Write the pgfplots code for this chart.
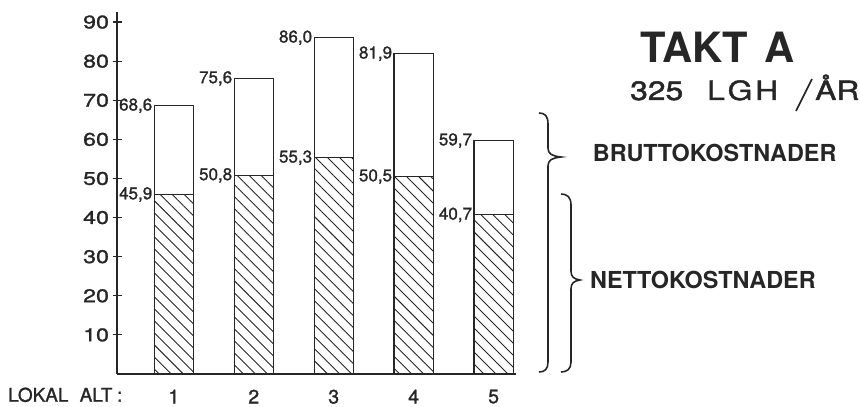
\documentclass[border=0pt]{standalone}
\usepackage{fontspec}
\setmainfont{TeX Gyre Heros}
\newfontfamily\medfont[FakeBold=1.3]{TeX Gyre Heros}
\newfontfamily\widefont[FakeStretch=1.27, FakeBold=1.3]{TeX Gyre Heros}
\newfontfamily\titlefont[FakeStretch=1.2, FakeBold=1.6]{TeX Gyre Heros}
\usepackage{pgfplots}
\pgfplotsset{compat=1.18}
\usetikzlibrary{patterns.meta}
\definecolor{ink}{HTML}{262626}

\begin{document}
\begin{tikzpicture}[x=1pt,y=1pt]
\useasboundingbox (0,0) rectangle (860,407);
\begin{axis}[
  at={(117pt,33pt)}, anchor=south west,
  scale only axis, width=399pt, height=361.7pt,
  xmin=0.289, xmax=5.28, ymin=0, ymax=92.5,
  axis x line*=bottom, axis y line*=left,
  axis line style={ink, line width=1.3pt},
  xtick={1,2,3,4,5}, xtick style={draw=none},
  ytick={10,20,...,90},
  tick align=center, major tick length=9pt,
  ytick style={ink, line width=1.2pt},
  tick label style={ink},
  yticklabel style={font=\widefont\fontsize{18.3}{18.3}\selectfont},
  xticklabel style={font=\medfont\fontsize{19.5}{19.5}\selectfont, inner sep=0pt, yshift=-11pt},
  /pgf/number format/assume math mode=true,
  clip=false,
  point meta=y,
  nodes near coords={\pgfmathprintnumber[fixed, fixed zerofill, precision=1, use comma]{\pgfplotspointmeta}},
  every node near coord/.append style={anchor=east, xshift=-21pt, inner sep=0pt,
    text=ink, font=\medfont\fontsize{17}{17}\selectfont},
]
% gross cost (whole bar)
\addplot[ybar, bar width=0.49, bar shift=0pt, draw=ink, line width=1.2pt, fill=white]
  coordinates {(1,68.6) (2,75.6) (3,86.0) (4,81.9) (5,59.7)};
% net cost (hatched part)
\addplot[ybar, bar width=0.49, bar shift=0pt, draw=ink, line width=1.2pt,
  pattern={Lines[angle=-45, distance=8.5pt, line width=0.9pt]}, pattern color=ink]
  coordinates {(1,45.9) (2,50.8) (3,55.3) (4,50.5) (5,40.7)};
\end{axis}

\node[anchor=base west, inner sep=0, text=ink] at (8,5.3)
  {\medfont\fontsize{18.9}{19}\selectfont LOKAL\hspace{0.6em}ALT\hspace{0.25em}:};

\node[anchor=base west, inner sep=0, text=ink] at (640,344)
  {\fontsize{41.7}{42}\selectfont\bfseries TAKT\hspace{0.38em}A};
\node[anchor=base west, inner sep=0, text=ink] at (630,307)
  {\titlefont\fontsize{26.5}{27}\selectfont 325};
\node[anchor=base west, inner sep=0, text=ink] at (707,307)
  {\titlefont\fontsize{26.5}{27}\selectfont L\kern2.8pt G\kern2.8pt H};
\node[anchor=base west, inner sep=0, text=ink] at (815,307)
  {\titlefont\fontsize{26.5}{27}\selectfont ÅR};

\node[anchor=base west, inner sep=0, text=ink] at (592.7,245.3)
  {\fontsize{23.4}{24}\selectfont\bfseries BRUTTOKOSTNADER};
\node[anchor=base west, inner sep=0, text=ink] at (590,118.7)
  {\fontsize{23.4}{24}\selectfont\bfseries NETTOKOSTNADER};

% braces and slash, in top-down pixel coordinates
\begin{scope}[shift={(0,407)}, yscale=-1, draw=ink, line width=1.6pt]
\draw (539,113) .. controls (545,113) and (548,116) .. (548,124) -- (548,148)
  .. controls (548,154) and (552,156) .. (561,157)
  .. controls (552,158) and (548,160) .. (548,166) -- (548,362)
  .. controls (548,369) and (545,372) .. (539,372);
\draw (561,194) .. controls (567,194) and (571,197) .. (571,205) -- (571,271)
  .. controls (571,277) and (574,279) .. (580,280)
  .. controls (574,281) and (571,283) .. (571,289) -- (571,362)
  .. controls (571,369) and (567,372) .. (561,372);
\draw (812,79) -- (796,111);
\end{scope}
\end{tikzpicture}
\end{document}
